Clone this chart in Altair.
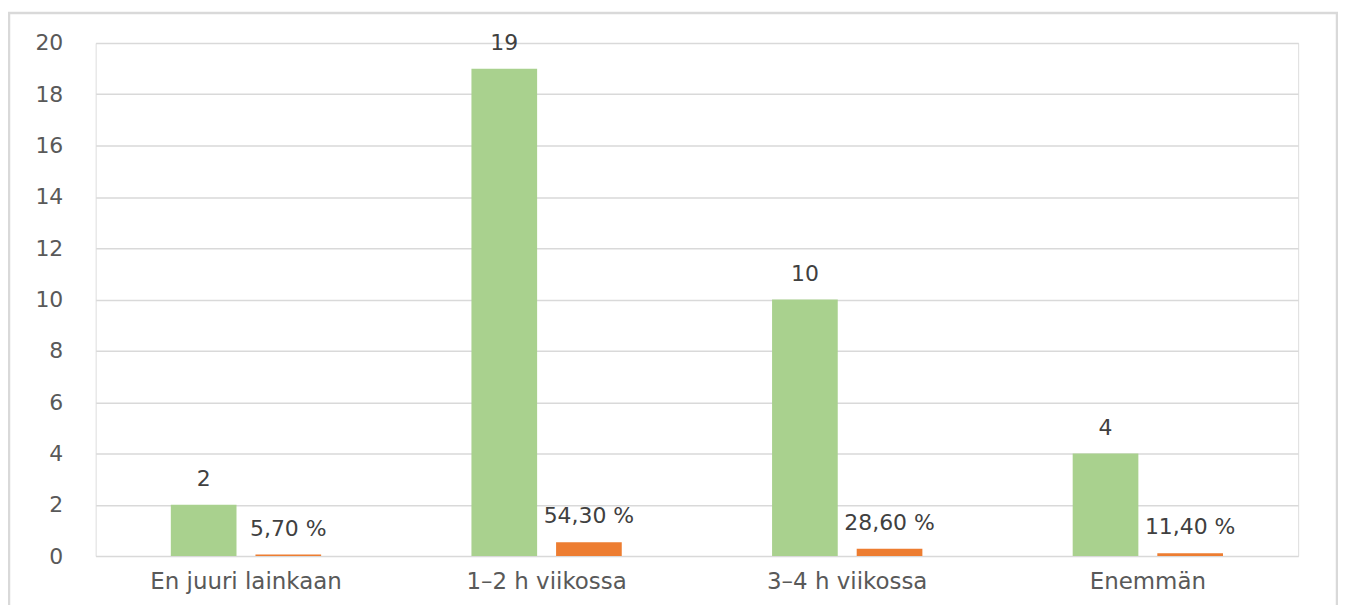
import altair as alt
import pandas as pd

categories = ["En juuri lainkaan", "1–2 h viikossa", "3–4 h viikossa", "Enemmän"]
counts = [2, 19, 10, 4]
shares = [0.057, 0.543, 0.286, 0.114]
series = ["Määrä", "Osuus"]
y_ticks = list(range(0, 21, 2))

rows = []
for c, n, s in zip(categories, counts, shares):
    rows.append({"cat": c, "series": series[0], "value": n, "label": str(n)})
    rows.append({"cat": c, "series": series[1], "value": s,
                 "label": f"{s * 100:.2f} %".replace(".", ",")})
df = pd.DataFrame(rows)

FONT = "DejaVu Sans"
GRAY = "#595959"

x = alt.X("cat:N", sort=categories, title=None,
          scale=alt.Scale(paddingInner=0.5, paddingOuter=0.25),
          axis=alt.Axis(labelAngle=0, labelFontSize=23, labelColor=GRAY, labelFont=FONT,
                        labelLimit=0, ticks=False, domain=False, labelPadding=15, grid=False))
xo = alt.XOffset("series:N", sort=series,
                 scale=alt.Scale(paddingInner=0.224, paddingOuter=0))
y = alt.Y("value:Q", title=None, scale=alt.Scale(domain=[0, 20], nice=False),
          axis=alt.Axis(values=y_ticks, labelFontSize=22, labelColor=GRAY, labelFont=FONT,
                        ticks=False, domain=False, labelPadding=33,
                        gridColor="#d9d9d9", gridWidth=1.5))
color = alt.Color("series:N", scale=alt.Scale(domain=series, range=["#a9d18e", "#ed7d31"]),
                  legend=None)

base = alt.Chart(df)
bars = base.mark_bar().encode(x=x, xOffset=xo, y=y, color=color)
texts = base.mark_text(dy=-19, baseline="alphabetic", fontSize=22, font=FONT,
                       color="#404040").encode(x=x, xOffset=xo, y=y, text="label:N")

frame = alt.Chart(pd.DataFrame({"a": [0]})).mark_rect(
    fill=None, stroke="#d9d9d9", strokeWidth=2.5).encode(
    x=alt.value(-87), x2=alt.value(1246), y=alt.value(-30), y2=alt.value(640))

chart = alt.layer(frame, bars, texts).properties(
    width=1207, height=515,
    autosize=alt.AutoSizeParams(type="none"),
    padding={"left": 88, "top": 34, "right": 40, "bottom": 48},
).configure_view(stroke=None).configure(background="white")

chart.save("out.html", embed_options={"renderer": "svg", "actions": False})
